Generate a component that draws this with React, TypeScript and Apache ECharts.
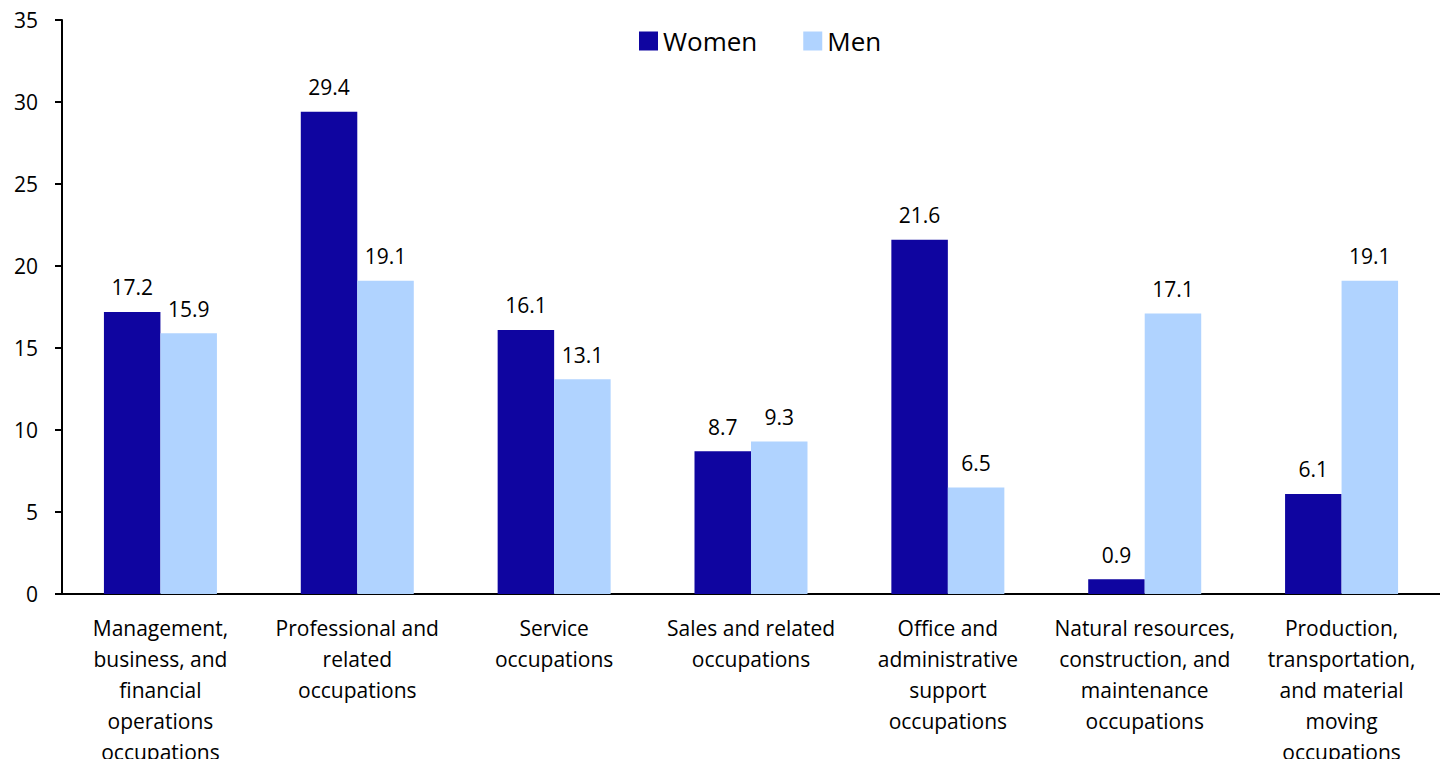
import React, { useEffect, useRef } from "react";
import * as echarts from "echarts";

const categories = [
  "Management,\nbusiness, and\nfinancial\noperations\noccupations",
  "Professional and\nrelated\noccupations",
  "Service\noccupations",
  "Sales and related\noccupations",
  "Office and\nadministrative\nsupport\noccupations",
  "Natural resources,\nconstruction, and\nmaintenance\noccupations",
  "Production,\ntransportation,\nand material\nmoving\noccupations",
];
const women = [17.2, 29.4, 16.1, 8.7, 21.6, 0.9, 6.1];
const men = [15.9, 19.1, 13.1, 9.3, 6.5, 17.1, 19.1];
const yTicks = { min: 0, max: 35, interval: 5 };

const FONT = "Open Sans";

export default function App() {
  const ref = useRef<HTMLDivElement>(null);
  useEffect(() => {
    if (!ref.current) return;
    const chart = echarts.init(ref.current, undefined, { renderer: "svg" });
    const label = {
      show: true,
      position: "top" as const,
      distance: 14,
      color: "#000",
      fontFamily: FONT,
      fontSize: 21,
      formatter: (p: any) => p.value.toFixed(1),
    };
    chart.setOption({
      animation: false,
      textStyle: { fontFamily: FONT },
      legend: {
        top: 23,
        left: 634,
        icon: "rect",
        itemWidth: 19,
        itemHeight: 19,
        itemGap: 46,
        textStyle: { fontFamily: FONT, fontSize: 26, color: "#000" },
        data: ["Women", "Men"],
      },
      grid: { left: 62, top: 20, right: 8, bottom: 173, containLabel: false },
      xAxis: {
        type: "category",
        data: categories,
        axisLine: { show: true, lineStyle: { color: "#000", width: 2 } },
        axisTick: { show: false },
        axisLabel: {
          interval: 0,
          color: "#000",
          fontFamily: FONT,
          fontSize: 21,
          lineHeight: 31,
          margin: 18,
        },
      },
      yAxis: {
        type: "value",
        min: yTicks.min,
        max: yTicks.max,
        interval: yTicks.interval,
        splitLine: { show: false },
        axisLine: { show: true, lineStyle: { color: "#000", width: 2 } },
        axisTick: { show: true, inside: false, length: 7, lineStyle: { color: "#000", width: 2 } },
        axisLabel: { color: "#000", fontFamily: FONT, fontSize: 21, margin: 24 },
      },
      series: [
        {
          name: "Women",
          type: "bar",
          data: women,
          itemStyle: { color: "#0F05A0" },
          barGap: "0%",
          barCategoryGap: "42.6%",
          label,
        },
        {
          name: "Men",
          type: "bar",
          data: men,
          itemStyle: { color: "#B0D3FF" },
          label,
        },
      ],
    });
    return () => chart.dispose();
  }, []);
  return <div ref={ref} style={{ width: 1448, height: 767, margin: -8 }} />;
}
